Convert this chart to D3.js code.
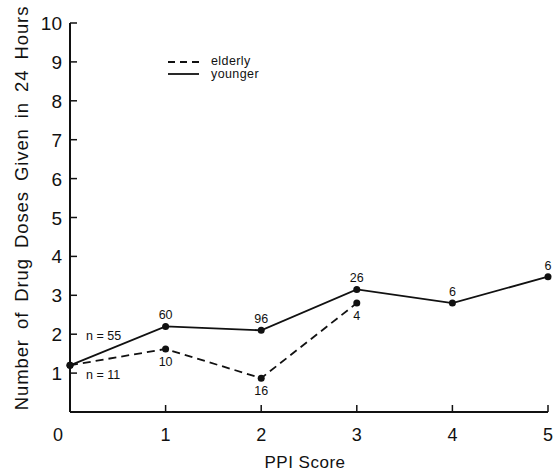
<!DOCTYPE html>
<html><head><meta charset="utf-8">
<script src="https://cdn.jsdelivr.net/npm/d3@7"></script>
<style>body{margin:0;background:#fff}text{font-family:"Liberation Sans",Arial,sans-serif;fill:#111}</style>
</head><body>
<svg id="c" width="554" height="475"></svg>
<script>
const ppi = [0,1,2,3,4,5];
const younger = [1.2,2.2,2.1,3.15,2.8,3.48];
const youngerN = ["n = 55","60","96","26","6","6"];
const elderlyX = [0,1,2,3];
const elderly = [1.2,1.62,0.87,2.8];
const elderlyN = ["n = 11","10","16","4"];
const yTicks = [1,2,3,4,5,6,7,8,9,10];
const xTicks = [0,1,2,3,4,5];

const svg = d3.select("#c");
const x = d3.scaleLinear().domain([0,5]).range([70,548]);
const y = d3.scaleLinear().domain([0,10]).range([412,23]);
const ink = "#111";

// axes
svg.append("line").attr("x1",x(0)).attr("x2",x(0)).attr("y1",y(10)).attr("y2",y(0)).attr("stroke",ink).attr("stroke-width",2);
svg.append("line").attr("x1",x(0)).attr("x2",x(5)).attr("y1",y(0)).attr("y2",y(0)).attr("stroke",ink).attr("stroke-width",2);

svg.selectAll(".yt").data(yTicks).enter().append("line")
  .attr("x1",x(0)).attr("x2",x(0)+7).attr("y1",d=>y(d)).attr("y2",d=>y(d)).attr("stroke",ink).attr("stroke-width",1.5);
svg.selectAll(".yl").data(yTicks).enter().append("text")
  .attr("x",62).attr("y",d=>y(d)+7).attr("text-anchor","end").attr("font-size",19).text(d=>d);

svg.selectAll(".xt").data(xTicks.filter(d=>d>0)).enter().append("line")
  .attr("x1",d=>x(d)).attr("x2",d=>x(d)).attr("y1",y(0)).attr("y2",y(0)-7).attr("stroke",ink).attr("stroke-width",1.5);
svg.selectAll(".xl").data(xTicks).enter().append("text")
  .attr("x",d=>d===0?x(d)-12:x(d)).attr("y",441).attr("text-anchor","middle").attr("font-size",18).text(d=>d);

svg.append("text").attr("x",305).attr("y",468).attr("text-anchor","middle").attr("font-size",17).attr("letter-spacing",0.5).text("PPI Score");
svg.append("text").attr("transform","translate(28,208) rotate(-90)").attr("text-anchor","middle").attr("font-size",18.5)
  .attr("letter-spacing",0.9).attr("word-spacing",4).text("Number of Drug Doses Given in 24 Hours");

// lines
const line = d3.line().x(d=>x(d[0])).y(d=>y(d[1]));
const yd = ppi.map((p,i)=>[p,younger[i]]);
const ed = elderlyX.map((p,i)=>[p,elderly[i]]);
svg.append("path").attr("d",line(yd)).attr("fill","none").attr("stroke",ink).attr("stroke-width",1.8);
svg.append("path").attr("d",line(ed)).attr("fill","none").attr("stroke",ink).attr("stroke-width",1.8).attr("stroke-dasharray","8,5");
svg.selectAll(".yp").data(yd).enter().append("circle").attr("cx",d=>x(d[0])).attr("cy",d=>y(d[1])).attr("r",3.5).attr("fill",ink);
svg.selectAll(".ep").data(ed).enter().append("circle").attr("cx",d=>x(d[0])).attr("cy",d=>y(d[1])).attr("r",3.5).attr("fill",ink);

// n labels
svg.selectAll(".yn").data(yd).enter().append("text")
  .attr("x",(d,i)=>i===0?86:x(d[0])).attr("y",(d,i)=>i===0?y(2)+6:y(d[1])-7)
  .attr("text-anchor",(d,i)=>i===0?"start":"middle").attr("font-size",12.5).text((d,i)=>youngerN[i]);
svg.selectAll(".en").data(ed).enter().append("text")
  .attr("x",(d,i)=>i===0?86:x(d[0])).attr("y",(d,i)=>i===0?y(1)+6:y(d[1])+17)
  .attr("text-anchor",(d,i)=>i===0?"start":"middle").attr("font-size",12.5).text((d,i)=>elderlyN[i]);

// legend
svg.append("line").attr("x1",168).attr("x2",199).attr("y1",62).attr("y2",62).attr("stroke",ink).attr("stroke-width",1.8).attr("stroke-dasharray","7,5");
svg.append("line").attr("x1",168).attr("x2",199).attr("y1",74).attr("y2",74).attr("stroke",ink).attr("stroke-width",1.8);
svg.append("text").attr("x",211).attr("y",65).attr("font-size",12.5).attr("letter-spacing",0.4).text("elderly");
svg.append("text").attr("x",211).attr("y",78).attr("font-size",12.5).attr("letter-spacing",0.4).text("younger");
</script>
</body></html>
